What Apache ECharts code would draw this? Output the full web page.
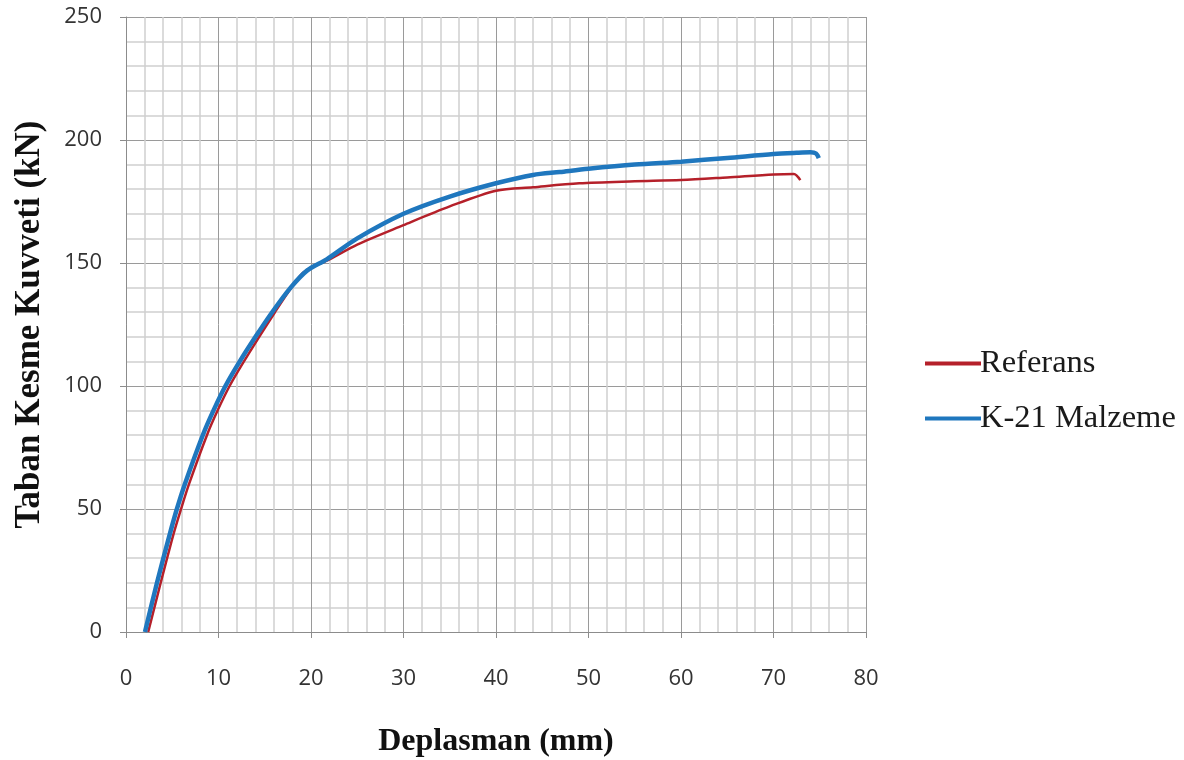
<!DOCTYPE html>
<html>
<head>
<meta charset="utf-8">
<script src="https://cdn.jsdelivr.net/npm/echarts@6/dist/echarts.min.js"></script>
<style>
  html, body { margin: 0; padding: 0; background: #fff; }
  #chart { width: 1184px; height: 760px; }
</style>
</head>
<body>
<div id="chart"></div>
<script>
// series names
var seriesNames = ['Referans', 'K-21 Malzeme'];

// Referans curve (displacement mm, shear force kN)
var refX = [2.4, 3.75, 5.15, 5.95, 6.8, 8.75, 9.9, 11.2, 12.75, 14.4, 16.1, 17.6, 19.0, 20.0, 22.0, 25.0, 30.0, 35.0, 40.0, 44.0, 49.0, 55.0, 60.0, 65.0, 70.0, 72.2, 72.9];
var refY = [0, 20, 40, 50, 60, 80, 90, 100, 110, 120, 130, 138.5, 145.5, 148, 151.5, 157.5, 165.4, 173, 179.4, 180.8, 182.4, 183.2, 183.7, 184.8, 186, 186.2, 183.7];

// K-21 Malzeme curve
var k21X = [2.05, 3.35, 4.75, 5.5, 6.35, 8.3, 9.45, 10.75, 12.3, 14.0, 15.8, 17.8, 19.6, 21.7, 25.0, 30.0, 35.0, 40.0, 44.0, 46.9, 50.0, 55.0, 60.0, 65.0, 70.0, 72.5, 74.0, 74.6, 74.9];
var k21Y = [0, 20, 40, 50, 60, 80, 90, 100, 110, 120, 130, 140, 147, 151.5, 160, 170, 177, 182.4, 185.8, 187, 188.3, 190, 191.2, 192.7, 194.3, 194.8, 195, 194.5, 192.6];

function pairs(xs, ys) {
    var out = [];
    for (var i = 0; i < xs.length; i++) out.push([xs[i], ys[i]]);
    return out;
}

var myChart = echarts.init(document.getElementById('chart'));

var option = {
    animation: false,
    backgroundColor: '#fff',
    grid: { left: 126, right: 318, top: 17, bottom: 128, outerBoundsMode: 'none' },
    legend: {
        orient: 'vertical',
        left: 920,
        top: 342,
        itemWidth: 56,
        itemHeight: 4,
        itemGap: 22,
        icon: 'rect',
        textStyle: { fontFamily: 'Liberation Serif', fontSize: 32.5, color: '#1a1a1a', padding: [0, 0, 0, -6] },
        data: seriesNames
    },
    xAxis: {
        type: 'value',
        min: 0, max: 80, interval: 10,
        name: 'Deplasman (mm)',
        nameLocation: 'middle',
        nameGap: 94,
        nameTextStyle: { fontFamily: 'Liberation Serif', fontWeight: 'bold', fontSize: 32, color: '#111' },
        axisLine: { show: true, lineStyle: { color: '#8c8c8c', width: 1 } },
        axisTick: { show: true, length: 6, lineStyle: { color: '#8c8c8c' } },
        axisLabel: { fontFamily: 'Open Sans', fontSize: 22, color: '#333', margin: 36 },
        splitLine: { show: true, lineStyle: { color: '#9a9a9a', width: 1 } },
        minorTick: { show: true, splitNumber: 5, length: 0 },
        minorSplitLine: { show: true, lineStyle: { color: '#cfcfcf', width: 1.5 } }
    },
    yAxis: {
        type: 'value',
        min: 0, max: 250, interval: 50,
        name: 'Taban Kesme Kuvveti (kN)',
        nameLocation: 'middle',
        nameGap: 79,
        nameTextStyle: { fontFamily: 'Liberation Serif', fontWeight: 'bold', fontSize: 35, color: '#111' },
        axisLine: { show: true, lineStyle: { color: '#8c8c8c', width: 1 } },
        axisTick: { show: true, length: 6, lineStyle: { color: '#8c8c8c' } },
        axisLabel: { fontFamily: 'Open Sans', fontSize: 22, color: '#333', margin: 24 },
        splitLine: { show: true, lineStyle: { color: '#9a9a9a', width: 1 } },
        minorTick: { show: true, splitNumber: 5, length: 0 },
        minorSplitLine: { show: true, lineStyle: { color: '#cfcfcf', width: 1.5 } }
    },
    series: [
        {
            name: seriesNames[0],
            type: 'line',
            data: pairs(refX, refY),
            smooth: 0.3,
            showSymbol: false,
            z: 3,
            lineStyle: { color: '#b5202a', width: 2.5 },
            itemStyle: { color: '#b5202a' }
        },
        {
            name: seriesNames[1],
            type: 'line',
            data: pairs(k21X, k21Y),
            smooth: 0.3,
            showSymbol: false,
            z: 4,
            lineStyle: { color: '#1f77be', width: 4.5 },
            itemStyle: { color: '#1f77be' }
        }
    ]
};

if (option && typeof option === "object") {
    myChart.setOption(option, true);
}
</script>
</body>
</html>
